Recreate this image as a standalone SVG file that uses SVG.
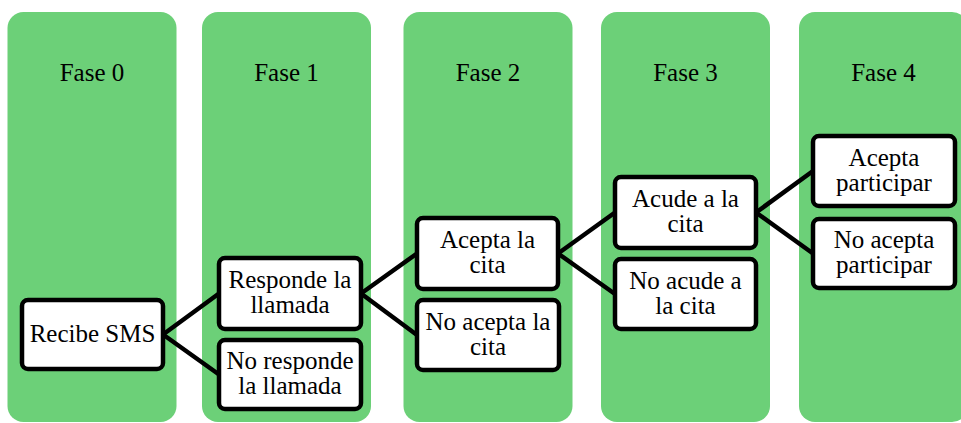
<svg xmlns="http://www.w3.org/2000/svg" width="961" height="423" viewBox="0 0 961 423">
<style>
.col{fill:#6cd078;}
.box{fill:#ffffff;stroke:#000000;stroke-width:4.5;}
.t{font-family:'Liberation Serif','Times New Roman',serif;font-size:25px;fill:#000000;text-anchor:middle;}
.c{stroke:#000000;stroke-width:4.5;fill:none;stroke-linecap:round;}
</style>
<rect width="961" height="423" fill="#ffffff"/>
<g id="fase0"><rect class="col" x="7.5" y="12" width="169" height="410" rx="16"/><text class="t" x="92" y="81">Fase 0</text></g>
<g id="fase1"><rect class="col" x="202" y="12" width="169" height="410" rx="16"/><text class="t" x="286.5" y="81">Fase 1</text></g>
<g id="fase2"><rect class="col" x="403.5" y="12" width="169" height="410" rx="16"/><text class="t" x="488" y="81">Fase 2</text></g>
<g id="fase3"><rect class="col" x="601" y="12" width="169" height="410" rx="16"/><text class="t" x="685.5" y="81">Fase 3</text></g>
<g id="fase4"><rect class="col" x="799" y="12" width="169" height="410" rx="16"/><text class="t" x="883.5" y="81">Fase 4</text></g>
<g id="connectors">
<line class="c" x1="163" y1="334.5" x2="219" y2="293.5"/>
<line class="c" x1="163" y1="334.5" x2="219" y2="374.5"/>
<line class="c" x1="361" y1="293.5" x2="417" y2="253.5"/>
<line class="c" x1="361" y1="293.5" x2="417" y2="335"/>
<line class="c" x1="558" y1="253.5" x2="615" y2="212.5"/>
<line class="c" x1="558" y1="253.5" x2="615" y2="294"/>
<line class="c" x1="756" y1="212.5" x2="813" y2="171"/>
<line class="c" x1="756" y1="212.5" x2="813" y2="253.5"/>
</g>
<g id="recibe"><rect class="box" x="22" y="300" width="141" height="69" rx="6"/><text class="t" x="92.5" y="341.7">Recibe SMS</text></g>
<g id="responde"><rect class="box" x="219" y="258" width="142" height="71" rx="6"/><text class="t" x="290" y="288.2">Responde la</text><text class="t" x="290" y="313.2">llamada</text></g>
<g id="noresponde"><rect class="box" x="219" y="340" width="142" height="69" rx="6"/><text class="t" x="290" y="369.2">No responde</text><text class="t" x="290" y="394">la llamada</text></g>
<g id="acepta"><rect class="box" x="417" y="218" width="141" height="71" rx="6"/><text class="t" x="487.5" y="248.2">Acepta la</text><text class="t" x="487.5" y="273.2">cita</text></g>
<g id="noacepta"><rect class="box" x="417" y="300" width="142" height="70" rx="6"/><text class="t" x="488" y="329.7">No acepta la</text><text class="t" x="488" y="354.7">cita</text></g>
<g id="acude"><rect class="box" x="615" y="177" width="141" height="71" rx="6"/><text class="t" x="685.5" y="207.2">Acude a la</text><text class="t" x="685.5" y="232.2">cita</text></g>
<g id="noacude"><rect class="box" x="615" y="259" width="141" height="70" rx="6"/><text class="t" x="685.5" y="288.7">No acude a</text><text class="t" x="685.5" y="313.7">la cita</text></g>
<g id="aceptapart"><rect class="box" x="813" y="136" width="142" height="70" rx="6"/><text class="t" x="884" y="165.7">Acepta</text><text class="t" x="884" y="190.7">participar</text></g>
<g id="noaceptapart"><rect class="box" x="813" y="219" width="142" height="69" rx="6"/><text class="t" x="884" y="248.2">No acepta</text><text class="t" x="884" y="273.2">participar</text></g>
</svg>
